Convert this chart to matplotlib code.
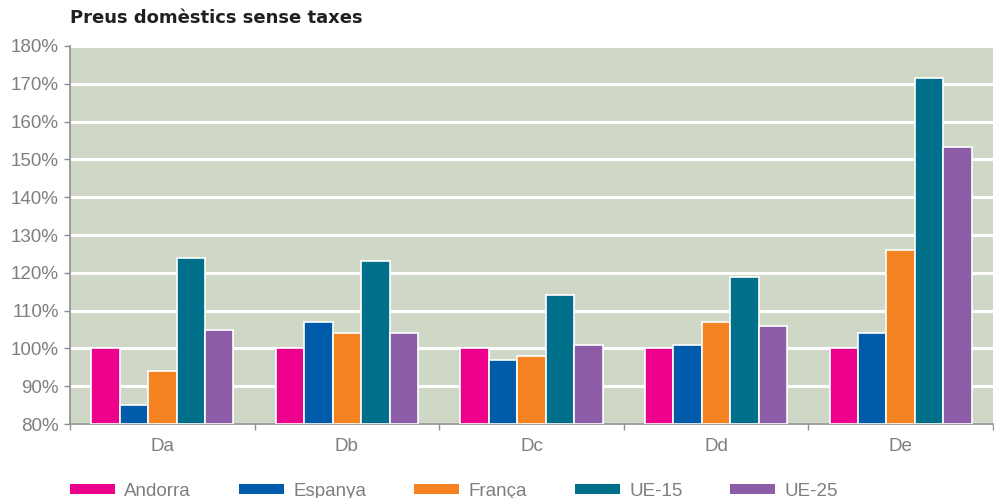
import matplotlib
matplotlib.use("Agg")
import matplotlib.pyplot as plt
from matplotlib.patches import Patch
from matplotlib.ticker import FuncFormatter, MultipleLocator, FixedLocator
import numpy as np

categories = ["Da", "Db", "Dc", "Dd", "De"]
series_names = ["Andorra", "Espanya", "França", "UE-15", "UE-25"]
andorra = [100, 100, 100, 100, 100]
espanya = [85, 107, 97, 101, 104]
franca = [94, 104, 98, 107, 126]
ue15 = [124, 123, 114, 119, 171.5]
ue25 = [105, 104, 101, 106, 153.3]
title = "Preus domèstics sense taxes"

values = [andorra, espanya, franca, ue15, ue25]
colors = ["#EC008C", "#005BAA", "#F58220", "#006F8A", "#8C5CA7"]

plt.rcParams['font.family'] = ['Liberation Sans', 'DejaVu Sans']

fig = plt.figure(figsize=(9.95, 4.98), dpi=100)
ax = fig.add_axes([70/995, 1-424/498, (993-70)/995, (424-46)/498])
ax.set_facecolor("#CFD8C6")

x = np.arange(len(categories))
w = 0.154
for i, (vals, col) in enumerate(zip(values, colors)):
    ax.bar(x + (i-2)*w, np.array(vals) - 80, width=w, bottom=80, color=col,
           edgecolor="white", linewidth=1.2, zorder=3, label=series_names[i])

ax.set_ylim(80, 180)
ax.set_xlim(-0.5, len(categories)-0.5)
ax.yaxis.set_major_locator(MultipleLocator(10))
ax.yaxis.set_major_formatter(FuncFormatter(lambda v, p: f"{int(v)}%"))
ax.yaxis.grid(True, color="white", linewidth=2.2, zorder=1)
ax.set_axisbelow(True)

ax.set_xticks(x)
ax.set_xticklabels(categories)
ax.xaxis.set_minor_locator(FixedLocator(np.arange(-0.5, len(categories), 1.0)))
ax.tick_params(axis='x', which='major', length=0, pad=10, labelsize=13.5, labelcolor="#7F7F7F")
ax.tick_params(axis='x', which='minor', length=4, color="#8F8F8F", width=1)
ax.tick_params(axis='y', length=4, color="#8F8F8F", width=1, labelsize=13.5, labelcolor="#7F7F7F", pad=4)

for s in ["top", "right"]:
    ax.spines[s].set_visible(False)
for s in ["left", "bottom"]:
    ax.spines[s].set_color("#8F8F8F")
    ax.spines[s].set_linewidth(1.2)

fig.text(70/995, 1-18/498, title, fontsize=13, fontweight="bold", color="#231F20",
         va="center", ha="left", family=["DejaVu Sans"])

handles = [Patch(facecolor=c, edgecolor="none") for c in colors]
leg = fig.legend(handles, series_names, loc="center left",
                 bbox_to_anchor=(70/995, 1-491/498), ncol=5, frameon=False,
                 borderpad=0, borderaxespad=0, handlelength=2.4, handleheight=0.45,
                 handletextpad=0.5, columnspacing=2.55, fontsize=13.5)
for t in leg.get_texts():
    t.set_color("#7F7F7F")

fig.savefig("out.png", dpi=100)
